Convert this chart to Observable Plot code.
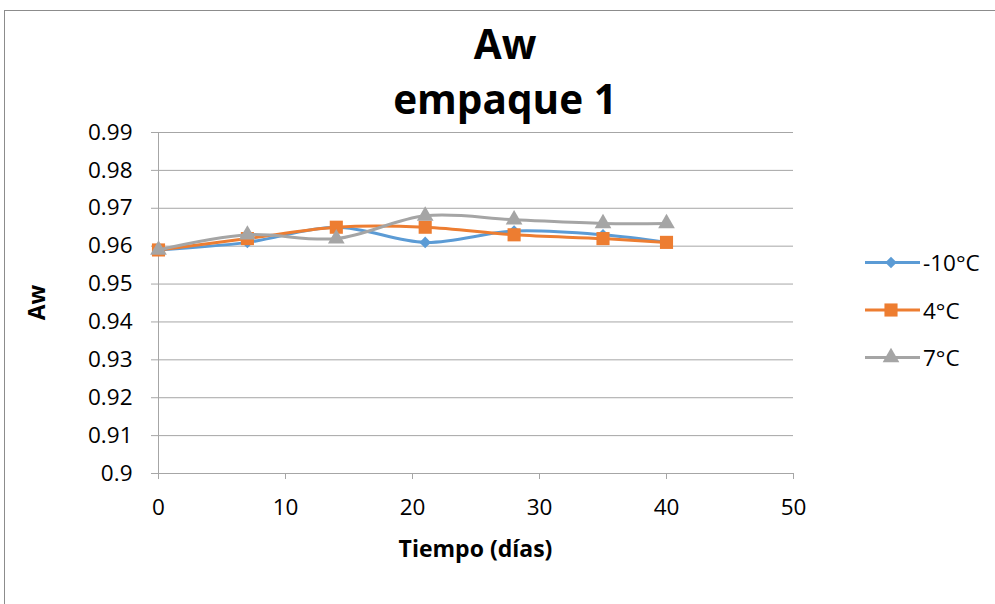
<!DOCTYPE html>
<html>
<head>
<meta charset="utf-8">
<script src="https://cdn.jsdelivr.net/npm/d3@7"></script>
<script src="https://cdn.jsdelivr.net/npm/@observablehq/plot@0.6"></script>
<style>
  html, body { margin: 0; padding: 0; background: #fff; }
  #chart { position: relative; width: 995px; height: 604px; overflow: hidden; font-family: "Open Sans", sans-serif; color: #000; }
  #frame { position: absolute; left: 4px; top: 10px; width: 1200px; height: 800px; border-left: 1px solid #8c8c8c; border-top: 1px solid #8c8c8c; }
  #plot, #overlay { position: absolute; left: 0; top: 0; }
  #plot svg g[aria-label="x-axis tick"] path,
  #plot svg g[aria-label="y-axis tick"] path { stroke: #a6a6a6; stroke-opacity: 1; }
</style>
</head>
<body>
<div id="chart">
  <div id="frame"></div>
  <div id="plot"></div>
  <svg id="overlay" width="995" height="604"></svg>
</div>
<script>
// Water activity per storage temperature, sampled on the same days
const dias = [0, 7, 14, 21, 28, 35, 40];
const awMenos10 = [0.959, 0.961, 0.965, 0.961, 0.964, 0.963, 0.961];
const aw4 = [0.959, 0.962, 0.965, 0.965, 0.963, 0.962, 0.961];
const aw7 = [0.959, 0.963, 0.962, 0.968, 0.967, 0.966, 0.966];

const seriesNames = ["-10°C", "4°C", "7°C"];
const seriesColors = ["#5b9bd5", "#ed7d31", "#a5a5a5"];
const seriesSymbols = ["diamond2", "square", "triangle"];
const seriesRadius = [5.2, 7.4, 6.2];

const xTicks = [0, 10, 20, 30, 40, 50];
const yTicks = [0.9, 0.91, 0.92, 0.93, 0.94, 0.95, 0.96, 0.97, 0.98, 0.99];

const titleLines = ["Aw", "empaque 1"];
const xTitle = "Tiempo (días)";
const yTitle = "Aw";

const valores = [awMenos10, aw4, aw7];
const rows = seriesNames.map((name, s) =>
  dias.map((d, i) => ({serie: name, dia: d, aw: valores[s][i]}))
);

// each series: smoothed line, then its markers on top
const seriesMarks = rows.flatMap((data, s) => [
  Plot.line(data, {x: "dia", y: "aw", stroke: seriesColors[s], strokeWidth: 3, curve: "catmull-rom"}),
  Plot.dot(data, {x: "dia", y: "aw", symbol: seriesSymbols[s], fill: seriesColors[s], r: seriesRadius[s], stroke: "none"})
]);

const W = 995, H = 604;
const margin = {left: 158, right: 202, top: 132, bottom: 131};

const chart = Plot.plot({
  width: W,
  height: H,
  marginLeft: margin.left,
  marginRight: margin.right,
  marginTop: margin.top,
  marginBottom: margin.bottom,
  style: {fontFamily: "'Open Sans', sans-serif", fontSize: "22.5px", color: "#000", background: "transparent", overflow: "visible"},
  x: {domain: [0, 50], ticks: xTicks, tickSize: 6, tickPadding: 20, label: null},
  y: {
    domain: [0.9, 0.99], ticks: yTicks, tickSize: 7, tickPadding: 19,
    tickFormat: d => String(+d.toFixed(2)), label: null
  },
  marks: [
    Plot.gridY(yTicks, {stroke: "#a6a6a6", strokeOpacity: 1, strokeWidth: 1}),
    Plot.ruleX([0], {stroke: "#a6a6a6", strokeWidth: 1}),
    ...seriesMarks
  ]
});
document.getElementById("plot").append(chart);

// titles and legend drawn in an overlay
const overlay = d3.select("#overlay").style("font-family", "'Open Sans', sans-serif");

overlay.append("g").attr("font-weight", "bold").attr("font-size", 40.5).attr("text-anchor", "middle")
  .selectAll("text").data(titleLines).join("text")
  .attr("x", 505)
  .attr("y", (d, i) => (i === 0 ? 59 : 114))
  .text(d => d);

const cx = margin.left + (W - margin.left - margin.right) / 2;
const cy = margin.top + (H - margin.top - margin.bottom) / 2;
overlay.append("text").attr("font-weight", "bold").attr("font-size", 23).attr("text-anchor", "middle")
  .attr("x", cx).attr("y", 557).text(xTitle);
overlay.append("text").attr("font-weight", "bold").attr("font-size", 23).attr("text-anchor", "middle")
  .attr("transform", `translate(45,${cy}) rotate(-90)`).text(yTitle);

// legend: line with its marker and the series name
const symbolTypes = {diamond2: d3.symbolDiamond2, square: d3.symbolSquare, triangle: d3.symbolTriangle};
const legendRows = [262.5, 310, 357.5];
const legend = overlay.append("g").attr("font-size", 22.5);
seriesNames.forEach((name, s) => {
  const g = legend.append("g").attr("transform", `translate(865,${legendRows[s]})`);
  g.append("line").attr("x1", 0).attr("x2", 55).attr("stroke", seriesColors[s]).attr("stroke-width", 3);
  const r = seriesRadius[s];
  g.append("path").attr("transform", "translate(26,0)")
    .attr("d", d3.symbol(symbolTypes[seriesSymbols[s]], Math.PI * r * r)())
    .attr("fill", seriesColors[s]);
  g.append("text").attr("x", 58).attr("y", 8.5).text(name);
});
</script>
</body>
</html>
